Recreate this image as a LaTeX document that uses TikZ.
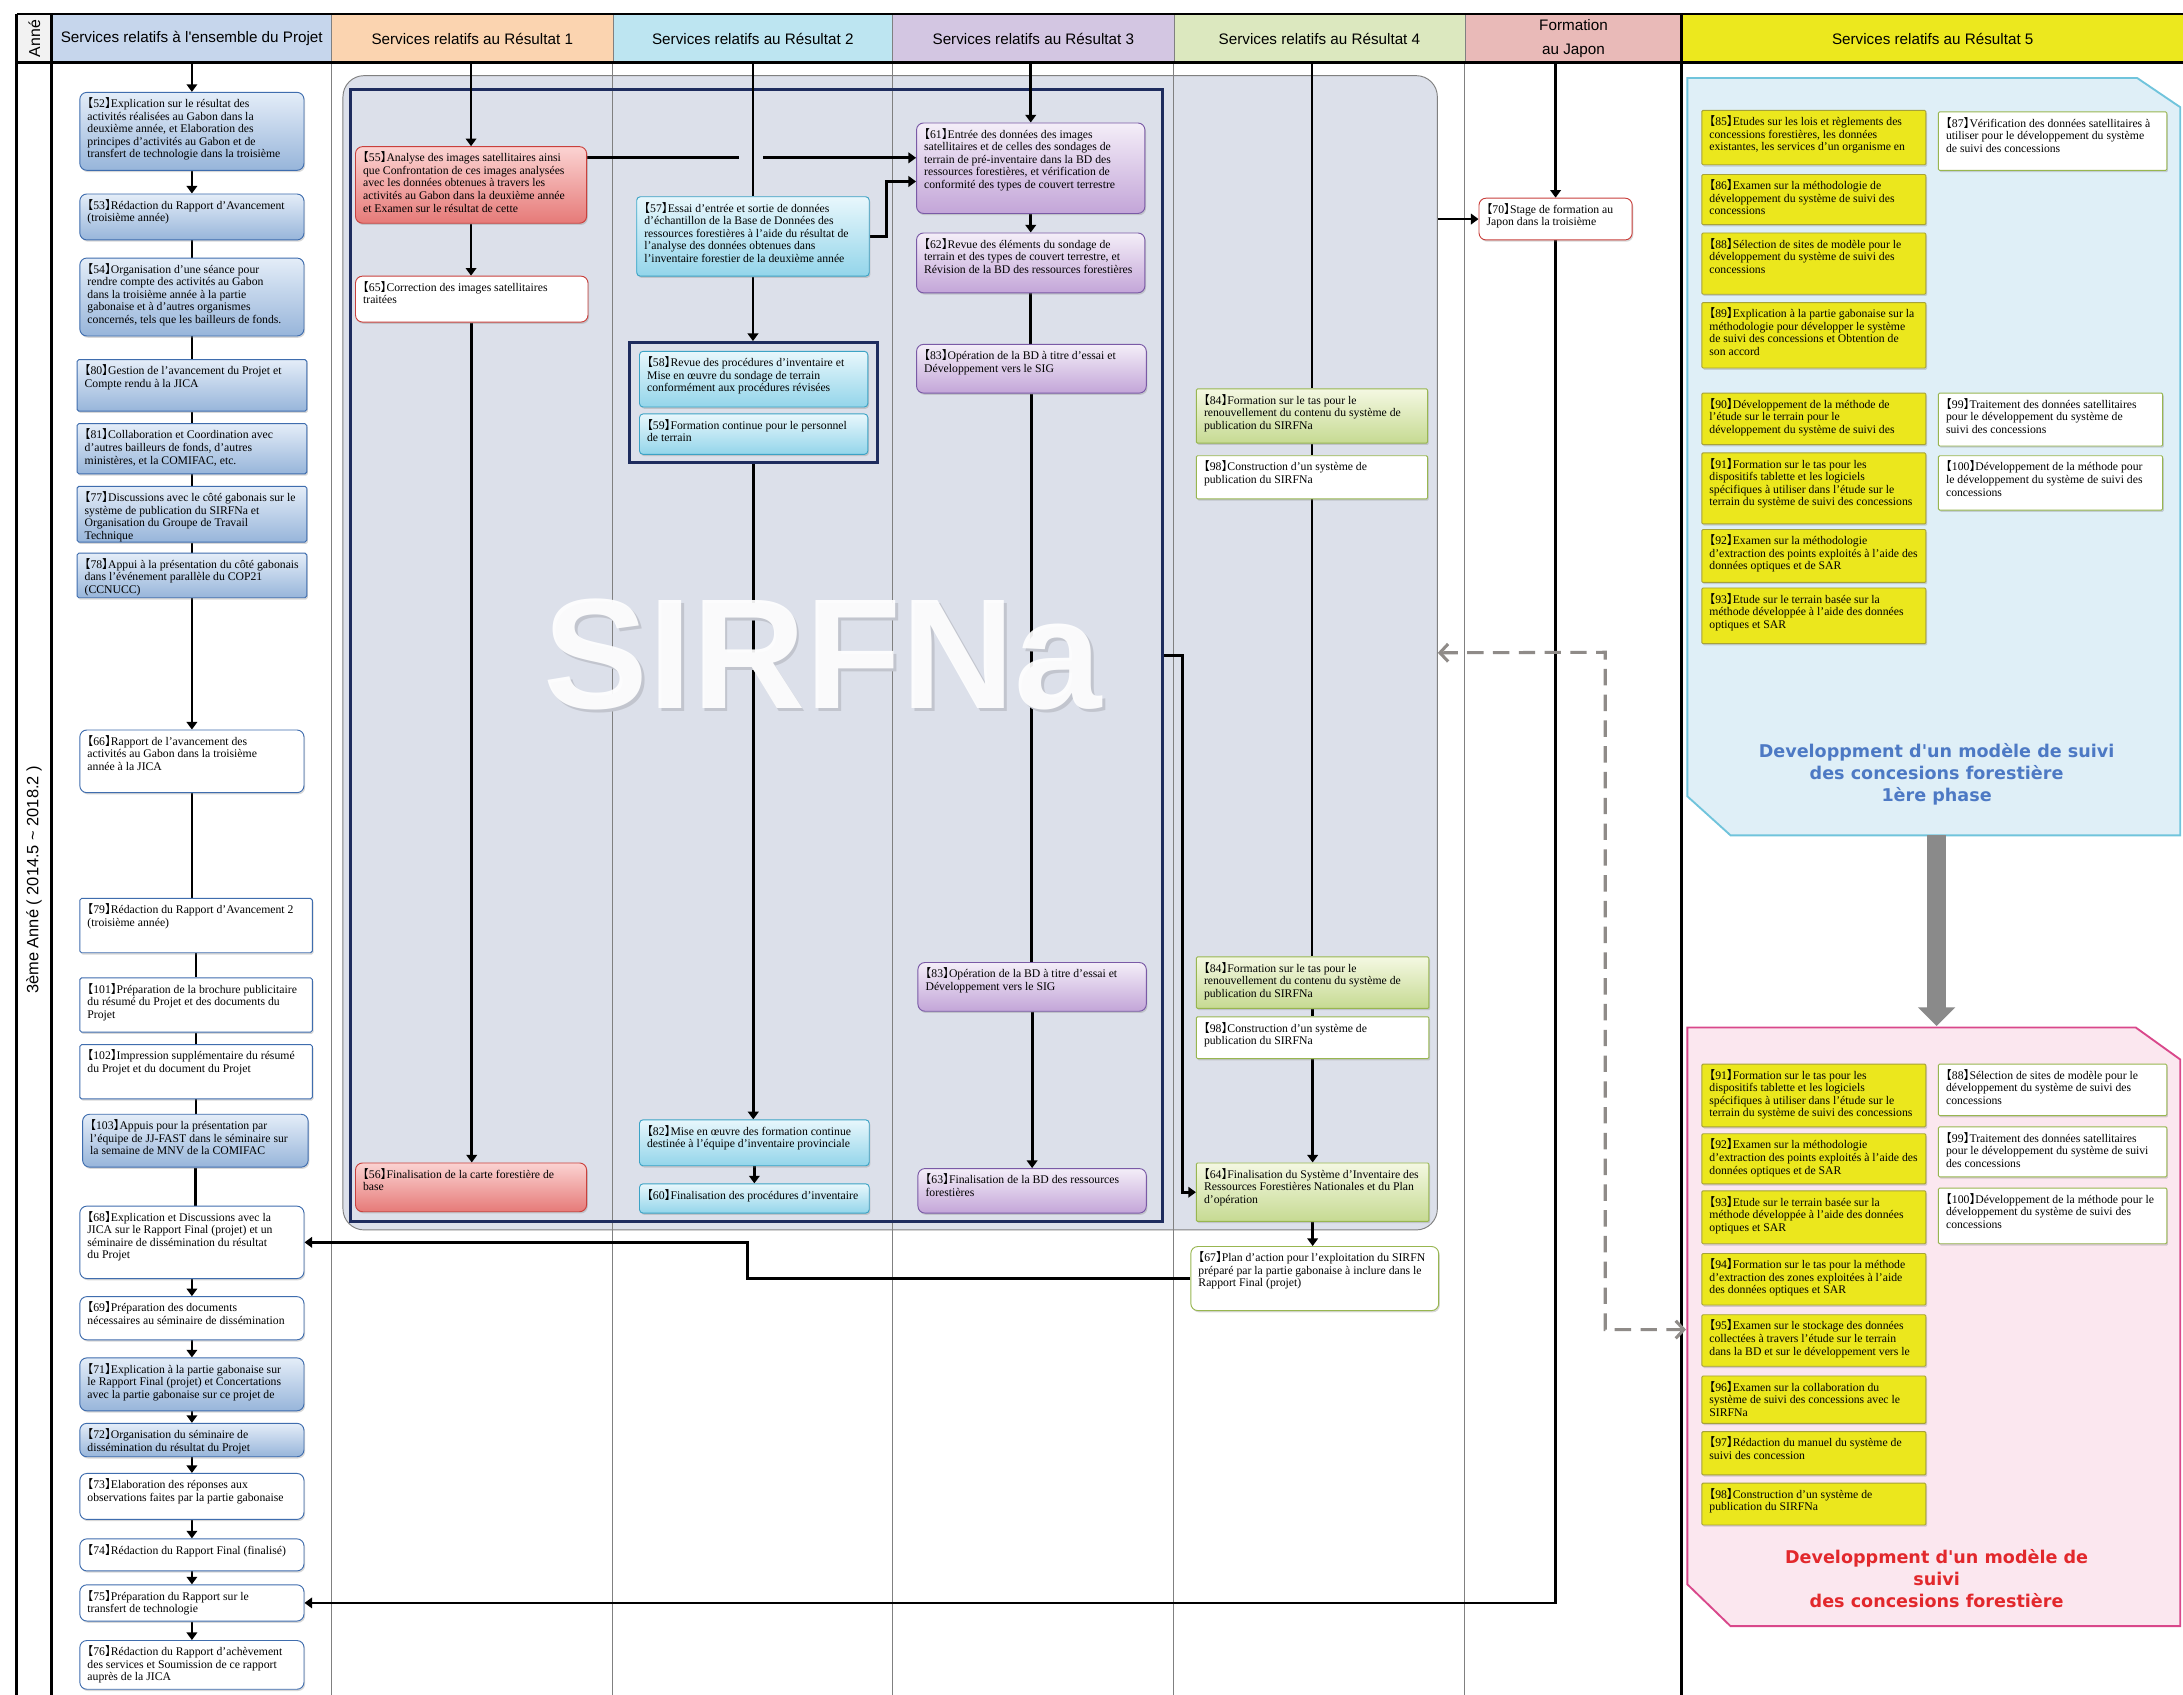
\documentclass[tikz,border=0pt]{standalone}
\usepackage{fontspec}
\setmainfont{Liberation Serif}
\newfontfamily\hdrfont{Liberation Sans}
\newfontfamily\cjkf{Noto Sans CJK JP}
\newfontfamily\vfont{DejaVu Sans}
\usetikzlibrary{arrows.meta,calc,shadows}

\definecolor{hA}{HTML}{F2F2F2}
\definecolor{hP}{HTML}{C6D6EC}
\definecolor{hR1}{HTML}{FBD4B0}
\definecolor{hR2}{HTML}{BDE5F1}
\definecolor{hR3}{HTML}{D3C6E2}
\definecolor{hR4}{HTML}{DCE8BF}
\definecolor{hJ}{HTML}{E9BAB8}
\definecolor{hR5}{HTML}{ECE81E}
\definecolor{regfill}{HTML}{DCE0EA}
\definecolor{navy}{HTML}{1E2C5E}
\definecolor{bTop}{HTML}{E4EDF8}\definecolor{bBot}{HTML}{97B5DA}\definecolor{bLine}{HTML}{3F6DAE}
\definecolor{rTop}{HTML}{FBD3D2}\definecolor{rBot}{HTML}{E67A78}\definecolor{rLine}{HTML}{C9403C}
\definecolor{cTop}{HTML}{E8F7FC}\definecolor{cBot}{HTML}{93D5EA}\definecolor{cLine}{HTML}{3CA3C5}
\definecolor{pTop}{HTML}{F4EEF8}\definecolor{pBot}{HTML}{C3A5D8}\definecolor{pLine}{HTML}{7A5AA6}
\definecolor{gTop}{HTML}{F4F8E2}\definecolor{gBot}{HTML}{C6DA92}\definecolor{gLine}{HTML}{98B650}
\definecolor{yFill}{HTML}{EBE71D}\definecolor{yLine}{HTML}{A6A239}
\definecolor{phAfill}{HTML}{DFEFF7}\definecolor{phAline}{HTML}{70C4DC}
\definecolor{phBfill}{HTML}{FBE7EF}\definecolor{phBline}{HTML}{D9488B}
\definecolor{tAcol}{HTML}{4D79C4}\definecolor{tBcol}{HTML}{E2282C}
\definecolor{dashcol}{HTML}{8F8B88}
\definecolor{bigarrow}{HTML}{8A8A8A}
\definecolor{divcol}{HTML}{808080}

\pgfdeclarelayer{bg}\pgfdeclarelayer{lines}
\pgfsetlayers{bg,lines,main}

% activity number in lenticular brackets
\newcommand\nb[1]{{\cjkf\kern-.5em 【}#1{\cjkf 】\kern-.5em}}

% activity box: name, style, x1, y1, x2, y2, text (top-aligned)
\newcommand\tbox[7]{%
  \pgfmathsetmacro\tskw{(#5-#3)*1.1884-13}%
  \pgfmathsetmacro\tskh{(#6-#4)*1.1884-3}%
  \node[taskbase,#2,anchor=north west] (#1) at (#3,#4)
   {\makebox[\tskw pt][l]{\parbox[c][\tskh pt][t]{\dimexpr\tskw pt+40pt\relax}{\raggedright\rule{0pt}{11.5pt}#7}}};}

% empty frame: name, style, x1, y1, x2, y2
\newcommand\rbox[6]{%
  \pgfmathsetmacro\rbw{(#5-#3)*1.1884}%
  \pgfmathsetmacro\rbh{(#6-#4)*1.1884}%
  \node[#2,anchor=north west,inner sep=0pt,minimum width=\rbw pt,minimum height=\rbh pt] (#1) at (#3,#4) {};}

% header cell: name, x1, x2, colour, text
\newcommand\hcell[5]{%
  \pgfmathsetmacro\hcw{(#3-#2)*1.1884}%
  \node[hcellst,fill=#4,minimum width=\hcw pt,anchor=north west] (#1) at (#2,10) {#5};}

\newcommand\vflow[3]{\draw[#1] (#2.south) -- (#2.south |- #3.north);}

\begin{document}
\begin{tikzpicture}[x=0.041767cm,y=-0.041767cm,
  taskbase/.style={inner xsep=6.5pt,inner ysep=1.5pt,line width=0.8pt,
    font=\fontsize{10}{10.7}\selectfont,
    drop shadow={shadow xshift=1pt,shadow yshift=-1.5pt,opacity=.3}},
  bluebox/.style={top color=bTop,bottom color=bBot,draw=bLine,rounded corners=6pt},
  bluerect/.style={top color=bTop,bottom color=bBot,draw=bLine,rounded corners=1.5pt},
  whitebox/.style={fill=white,draw=bLine,rounded corners=6pt},
  whiterect/.style={fill=white,draw=bLine,rounded corners=1.5pt},
  redbox/.style={top color=rTop,bottom color=rBot,draw=rLine,rounded corners=6pt},
  redwhite/.style={fill=white,draw=rLine,rounded corners=6pt},
  cyanbox/.style={top color=cTop,bottom color=cBot,draw=cLine,rounded corners=3pt},
  purplebox/.style={top color=pTop,bottom color=pBot,draw=pLine,rounded corners=6pt},
  greenbox/.style={top color=gTop,bottom color=gBot,draw=gLine,rounded corners=1pt},
  greenwhite/.style={fill=white,draw=gLine,rounded corners=1pt},
  greenround/.style={fill=white,draw=gLine,rounded corners=6pt},
  yelbox/.style={fill=yFill,draw=yLine,rounded corners=1pt},
  ywhite/.style={fill=white,draw=gLine,rounded corners=1pt},
  hcellst/.style={draw=divcol,line width=0.5pt,minimum height=41.6pt,inner sep=0pt,
    align=center,font=\hdrfont\fontsize{13}{20}\selectfont},
  fl/.style={line width=2.4pt,draw=black},
  fa/.style={fl,-{Triangle[width=9pt,length=6.5pt]}},
  thick border/.style={line width=2.4pt,draw=black},
  divider/.style={line width=0.7pt,draw=divcol},
  dashflow/.style={line width=2.6pt,draw=dashcol,dash pattern=on 14pt off 8pt,
    {Straight Barb[length=7pt,width=15pt]}-{Straight Barb[length=7pt,width=15pt]}}]

\useasboundingbox (0,0) rectangle (1568,1217.2);

\begin{pgfonlayer}{bg}
  \fill[white] (0,0) rectangle (1568,1217.2);
  % SIRFNa work area
  \rbox{region}{fill=regfill,draw=divcol,line width=0.8pt,rounded corners=18pt}{246}{54}{1032}{883}
  \foreach \xx in {238,440,641,843,1052} \draw[divider] (\xx,45) -- (\xx,1217.2);
  \rbox{sirfna}{draw=navy,line width=2.5pt}{251}{63}{834}{876}
  % Result 5 phases
  \path[draw=phAline,fill=phAfill,line width=1.6pt]
    (1212,56) -- (1535,56) -- (1566,77) -- (1566,600) -- (1243,600) -- (1212,572) -- cycle;
  \path[draw=phBline,fill=phBfill,line width=1.6pt]
    (1212,738) -- (1534,738) -- (1566,761) -- (1566,1168) -- (1243,1168) -- (1212,1138) -- cycle;
  % header row
  \hcell{h0}{12}{37}{hA}{}
  \hcell{h1}{37}{238}{hP}{Services relatifs à l'ensemble du Projet}
  \hcell{h2}{238}{440}{hR1}{Services relatifs au Résultat 1}
  \hcell{h3}{440}{641}{hR2}{Services relatifs au Résultat 2}
  \hcell{h4}{641}{843}{hR3}{Services relatifs au Résultat 3}
  \hcell{h5}{843}{1052}{hR4}{Services relatifs au Résultat 4}
  \hcell{h6}{1052}{1208}{hJ}{Formation\\au Japon}
  \hcell{h7}{1208}{1568}{hR5}{Services relatifs au Résultat 5}
  \node[rotate=90,font=\hdrfont\fontsize{13.5}{15}\selectfont] (h0t) at (h0) {Anné};
  \draw[thick border] (12,10) -- (1568,10);
  \draw[thick border] (12,45) -- (1568,45);
  \foreach \xx in {12,37,1208} \draw[thick border] (\xx,10) -- (\xx,1217.2);
  \node[rotate=90,font=\hdrfont\fontsize{14}{16}\selectfont] (year) at (24.5,632)
    {3ème Anné ( 2014.5 \textasciitilde{} 2018.2 )};
\end{pgfonlayer}

% ---- Services relatifs à l'ensemble du Projet
\tbox{a52}{bluebox}{57}{66}{218}{122}{\nb{52}Explication sur le résultat des\\activités réalisées au Gabon dans la\\deuxième année, et Elaboration des\\principes d'activités au Gabon et de\\transfert de technologie dans la troisième}
\tbox{a53}{bluebox}{57}{139}{218}{172}{\nb{53}Rédaction du Rapport d'Avancement\\(troisième année)}
\tbox{a54}{bluebox}{57}{185}{218}{241}{\nb{54}Organisation d'une séance pour\\rendre compte des activités au Gabon\\dans la troisième année à la partie\\gabonaise et à d'autres organismes\\concernés, tels que les bailleurs de fonds.}
\tbox{a80}{bluerect}{55}{258}{220}{295}{\nb{80}Gestion de l'avancement du Projet et\\Compte rendu à la JICA}
\tbox{a81}{bluerect}{55}{304}{220}{340}{\nb{81}Collaboration et Coordination avec\\d'autres bailleurs de fonds, d'autres\\ministères, et la COMIFAC, etc.}
\tbox{a77}{bluerect}{55}{349}{220}{389}{\nb{77}Discussions avec le côté gabonais sur le\\système de publication du SIRFNa et\\Organisation du Groupe de Travail\\Technique}
\tbox{a78}{bluerect}{55}{397}{220}{429}{\nb{78}Appui à la présentation du côté gabonais\\dans l'événement parallèle du COP21\\(CCNUCC)}
\tbox{a66}{whitebox}{57}{524}{218}{569}{\nb{66}Rapport de l'avancement des\\activités au Gabon dans la troisième\\année à la JICA}
\tbox{a79}{whiterect}{57}{645}{224}{684}{\nb{79}Rédaction du Rapport d'Avancement 2\\(troisième année)}
\tbox{a101}{whiterect}{57}{702}{224}{741}{\nb{101}Préparation de la brochure publicitaire\\du résumé du Projet et des documents du\\Projet}
\tbox{a102}{whiterect}{57}{750}{224}{789}{\nb{102}Impression supplémentaire du résumé\\du Projet et du document du Projet}
\tbox{a103}{bluebox}{59}{800}{221}{838}{\nb{103}Appuis pour la présentation par\\l'équipe de JJ-FAST dans le séminaire sur\\la semaine de MNV de la COMIFAC}
\tbox{a68}{whitebox}{57}{866}{218}{918}{\nb{68}Explication et Discussions avec la\\JICA sur le Rapport Final (projet) et un\\séminaire de dissémination du résultat\\du Projet}
\tbox{a69}{whitebox}{57}{931}{218}{962}{\nb{69}Préparation des documents\\nécessaires au séminaire de dissémination}
\tbox{a71}{bluebox}{57}{975}{218}{1013}{\nb{71}Explication à la partie gabonaise sur\\le Rapport Final (projet) et Concertations\\avec la partie gabonaise sur ce projet de}
\tbox{a72}{bluebox}{57}{1022}{218}{1046}{\nb{72}Organisation du séminaire de\\dissémination du résultat du Projet}
\tbox{a73}{whitebox}{57}{1058}{218}{1091}{\nb{73}Elaboration des réponses aux\\observations faites par la partie gabonaise}
\tbox{a74}{whitebox}{57}{1105}{218}{1128}{\nb{74}Rédaction du Rapport Final (finalisé)}
\tbox{a75}{whitebox}{57}{1138}{218}{1164}{\nb{75}Préparation du Rapport sur le\\transfert de technologie}
\tbox{a76}{whitebox}{57}{1178}{218}{1213}{\nb{76}Rédaction du Rapport d'achèvement\\des services et Soumission de ce rapport\\auprès de la JICA}

% ---- Résultat 1
\tbox{r55}{redbox}{255}{105}{421}{160}{\nb{55}Analyse des images satellitaires ainsi\\que Confrontation de ces images analysées\\avec les données obtenues à travers les\\activités au Gabon dans la deuxième année\\et Examen sur le résultat de cette}
\tbox{r65}{redwhite}{255}{198}{422}{231}{\nb{65}Correction des images satellitaires\\traitées}
\tbox{r56}{redbox}{255}{835}{421}{870}{\nb{56}Finalisation de la carte forestière de\\base}

% ---- Résultat 2
\tbox{b57}{cyanbox}{457}{141}{624}{198}{\nb{57}Essai d'entrée et sortie de données\\d'échantillon de la Base de Données des\\ressources forestières à l'aide du résultat de\\l'analyse des données obtenues dans\\l'inventaire forestier de la deuxième année}
\rbox{nav2}{draw=navy,line width=2.5pt}{451}{245}{629}{331}
\tbox{b58}{cyanbox}{459}{252}{623}{292}{\nb{58}Revue des procédures d'inventaire et\\Mise en œuvre du sondage de terrain\\conformément aux procédures révisées}
\tbox{b59}{cyanbox}{459}{297}{623}{326}{\nb{59}Formation continue pour le personnel\\de terrain}
\tbox{b82}{cyanbox}{459}{804}{624}{837}{\nb{82}Mise en œuvre des formation continue\\destinée à l'équipe d'inventaire provinciale}
\tbox{b60}{cyanbox}{459}{850}{624}{871}{\nb{60}Finalisation des procédures d'inventaire}

% ---- Résultat 3
\tbox{c61}{purplebox}{658}{88}{822}{153}{\nb{61}Entrée des données des images\\satellitaires et de celles des sondages de\\terrain de pré-inventaire dans la BD des\\ressources forestières, et vérification de\\conformité des types de couvert terrestre}
\tbox{c62}{purplebox}{658}{167}{822}{210}{\nb{62}Revue des éléments du sondage de\\terrain et des types de couvert terrestre, et\\Révision de la BD des ressources forestières}
\tbox{c83a}{purplebox}{658}{247}{823}{282}{\nb{83}Opération de la BD à titre d'essai et\\Développement vers le SIG}
\tbox{c83b}{purplebox}{659}{691}{823}{726}{\nb{83}Opération de la BD à titre d'essai et\\Développement vers le SIG}
\tbox{c63}{purplebox}{659}{839}{823}{871}{\nb{63}Finalisation de la BD des ressources\\forestières}

% ---- Résultat 4
\tbox{d84a}{greenbox}{859}{279}{1025}{318}{\nb{84}Formation sur le tas pour le\\renouvellement du contenu du système de\\publication du SIRFNa}
\tbox{d98a}{greenwhite}{859}{327}{1025}{358}{\nb{98}Construction d'un système de\\publication du SIRFNa}
\tbox{d84b}{greenbox}{859}{687}{1026}{724}{\nb{84}Formation sur le tas pour le\\renouvellement du contenu du système de\\publication du SIRFNa}
\tbox{d98b}{greenwhite}{859}{730}{1026}{760}{\nb{98}Construction d'un système de\\publication du SIRFNa}
\tbox{d64}{greenbox}{859}{835}{1026}{877}{\nb{64}Finalisation du Système d'Inventaire des\\Ressources Forestières Nationales et du Plan\\d'opération}
\tbox{d67}{greenround}{855}{895}{1033}{941}{\nb{67}Plan d'action pour l'exploitation du SIRFN\\préparé par la partie gabonaise à inclure dans le\\Rapport Final (projet)}

% ---- Formation au Japon
\tbox{j70}{redwhite}{1062}{142}{1172}{172}{\nb{70}Stage de formation au\\Japon dans la troisième}

% ---- Résultat 5, first phase
\tbox{y85}{yelbox}{1222}{79}{1383}{118}{\nb{85}Etudes sur les lois et règlements des\\concessions forestières, les données\\existantes, les services d'un organisme en}
\tbox{y86}{yelbox}{1222}{125}{1383}{161}{\nb{86}Examen sur la méthodologie de\\développement du système de suivi des\\concessions}
\tbox{y88}{yelbox}{1222}{167}{1383}{211}{\nb{88}Sélection de sites de modèle pour le\\développement du système de suivi des\\concessions}
\tbox{y89}{yelbox}{1222}{217}{1383}{264}{\nb{89}Explication à la partie gabonaise sur la\\méthodologie pour développer le système\\de suivi des concessions et Obtention de\\son accord}
\tbox{y90}{yelbox}{1222}{282}{1383}{319}{\nb{90}Développement de la méthode de\\l'étude sur le terrain pour le\\développement du système de suivi des}
\tbox{y91}{yelbox}{1222}{325}{1383}{376}{\nb{91}Formation sur le tas pour les\\dispositifs tablette et les logiciels\\spécifiques à utiliser dans l'étude sur le\\terrain du système de suivi des concessions}
\tbox{y92}{yelbox}{1222}{380}{1383}{418}{\nb{92}Examen sur la méthodologie\\d'extraction des points exploités à l'aide des\\données optiques et de SAR}
\tbox{y93}{yelbox}{1222}{422}{1383}{462}{\nb{93}Etude sur le terrain basée sur la\\méthode développée à l'aide des données\\optiques et SAR}
\tbox{w87}{ywhite}{1392}{80}{1556}{122}{\nb{87}Vérification des données satellitaires à\\utiliser pour le développement du système\\de suivi des concessions}
\tbox{w99}{ywhite}{1392}{282}{1553}{320}{\nb{99}Traitement des données satellitaires\\pour le développement du système de\\suivi des concessions}
\tbox{w100}{ywhite}{1392}{327}{1553}{366}{\nb{100}Développement de la méthode pour\\le développement du système de suivi des\\concessions}
\node[font=\vfont\bfseries\fontsize{15}{19}\selectfont,text=tAcol,align=center] (phAt) at (1391,556)
  {Developpment d'un modèle de suivi\\des concesions forestière\\1ère phase};

% ---- Résultat 5, second phase
\tbox{k91}{yelbox}{1222}{764}{1383}{809}{\nb{91}Formation sur le tas pour les\\dispositifs tablette et les logiciels\\spécifiques à utiliser dans l'étude sur le\\terrain du système de suivi des concessions}
\tbox{k92}{yelbox}{1222}{814}{1383}{850}{\nb{92}Examen sur la méthodologie\\d'extraction des points exploités à l'aide des\\données optiques et de SAR}
\tbox{k93}{yelbox}{1222}{855}{1383}{893}{\nb{93}Etude sur le terrain basée sur la\\méthode développée à l'aide des données\\optiques et SAR}
\tbox{k94}{yelbox}{1222}{900}{1383}{937}{\nb{94}Formation sur le tas pour la méthode\\d'extraction des zones exploitées à l'aide\\des données optiques et SAR}
\tbox{k95}{yelbox}{1222}{944}{1383}{981}{\nb{95}Examen sur le stockage des données\\collectées à travers l'étude sur le terrain\\dans la BD et sur le développement vers le}
\tbox{k96}{yelbox}{1222}{988}{1383}{1022}{\nb{96}Examen sur la collaboration du\\système de suivi des concessions avec le\\SIRFNa}
\tbox{k97}{yelbox}{1222}{1028}{1383}{1059}{\nb{97}Rédaction du manuel du système de\\suivi des concession}
\tbox{k98}{yelbox}{1222}{1065}{1383}{1095}{\nb{98}Construction d'un système de\\publication du SIRFNa}
\tbox{m88}{ywhite}{1392}{764}{1556}{801}{\nb{88}Sélection de sites de modèle pour le\\développement du système de suivi des\\concessions}
\tbox{m99}{ywhite}{1392}{809}{1556}{845}{\nb{99}Traitement des données satellitaires\\pour le développement du système de suivi\\des concessions}
\tbox{m100}{ywhite}{1392}{853}{1556}{893}{\nb{100}Développement de la méthode pour le\\développement du système de suivi des\\concessions}
\node[font=\vfont\bfseries\fontsize{15}{19}\selectfont,text=tBcol,align=center] (phBt) at (1391,1134)
  {Developpment d'un modèle de\\suivi\\des concesions forestière};

% watermark
\node[font=\hdrfont\bfseries\fontsize{134}{134}\selectfont,text=black!12!regfill] (wmsh) at (593,472) {SIRFNa};
\node[font=\hdrfont\bfseries\fontsize{134}{134}\selectfont,text=white,opacity=.92] (wm) at (591,470) {SIRFNa};

% ---- connectors
\begin{pgfonlayer}{lines}
  \coordinate (cA) at ([yshift=8.9pt]c61.west);
  \coordinate (cB) at ([yshift=-11.3pt]c61.west);
  \coordinate (phAb) at (1391,600);
  \coordinate (phBt2) at (1391,737);
  \coordinate (dtop) at (1153,468.5);
  \coordinate (dbot) at (1153,955);
  \coordinate (pinkw) at (1211,955);

  % overall project column
  \draw[fa] (h1.south -| a52.north) -- (a52.north);
  \vflow{fa}{a52}{a53}
  \vflow{fl}{a53}{a54}
  \vflow{fl}{a54}{a80}
  \vflow{fl}{a80}{a81}
  \vflow{fl}{a81}{a77}
  \vflow{fl}{a77}{a78}
  \vflow{fa}{a78}{a66}
  \vflow{fl}{a66}{a79}
  \vflow{fl}{a79}{a101}
  \vflow{fl}{a101}{a102}
  \vflow{fl}{a102}{a103}
  \vflow{fl}{a103}{a68}
  \vflow{fa}{a68}{a69}
  \vflow{fa}{a69}{a71}
  \vflow{fa}{a71}{a72}
  \vflow{fa}{a72}{a73}
  \vflow{fa}{a73}{a74}
  \vflow{fa}{a74}{a75}
  \vflow{fa}{a75}{a76}

  % result 1
  \draw[fa] (h2.south -| r55.north) -- (r55.north);
  \vflow{fa}{r55}{r65}
  \vflow{fa}{r65}{r56}
  \draw[fa] (r55.east |- cA) -- (cA);
  \fill[regfill] (531,109) rectangle (548,117);

  % result 2
  \draw[fl] (h3.south -| b57.north) -- (b57.north);
  \vflow{fa}{b57}{nav2}
  \vflow{fa}{nav2}{b82}
  \vflow{fa}{b82}{b60}
  \draw[fa] (b57.east) -- ++(12,0) |- (cB);

  % result 3
  \draw[fa] (h4.south -| c61.north) -- (c61.north);
  \vflow{fa}{c61}{c62}
  \vflow{fl}{c62}{c83a}
  \vflow{fl}{c83a}{c83b}
  \vflow{fa}{c83b}{c63}
  \draw[fa] (sirfna.east) -- ++(13,0) |- (d64.west);

  % result 4
  \draw[fl] (h5.south -| d84a.north) -- (d84a.north);
  \vflow{fl}{d84a}{d98a}
  \vflow{fl}{d98a}{d84b}
  \vflow{fl}{d84b}{d98b}
  \vflow{fa}{d98b}{d64}
  \vflow{fa}{d64}{d67}
  \draw[fa] (d67.west) -| ($(a68.east)+(318,0)$) -- (a68.east);
  \draw[fa] (region.east |- j70.west) -- (j70.west);

  % training in Japan
  \draw[fa] (h6.south -| j70.north) -- (j70.north);
  \draw[fa] (j70.south) |- (a75.east);

  % result 5
  \draw[line width=16pt,draw=bigarrow,-{Triangle[width=31pt,length=16pt]}] (phAb) -- (phBt2);
  \draw[dashflow] (region.east) -- (dtop) -- (dbot) -- (pinkw);
\end{pgfonlayer}
\end{tikzpicture}
\end{document}
